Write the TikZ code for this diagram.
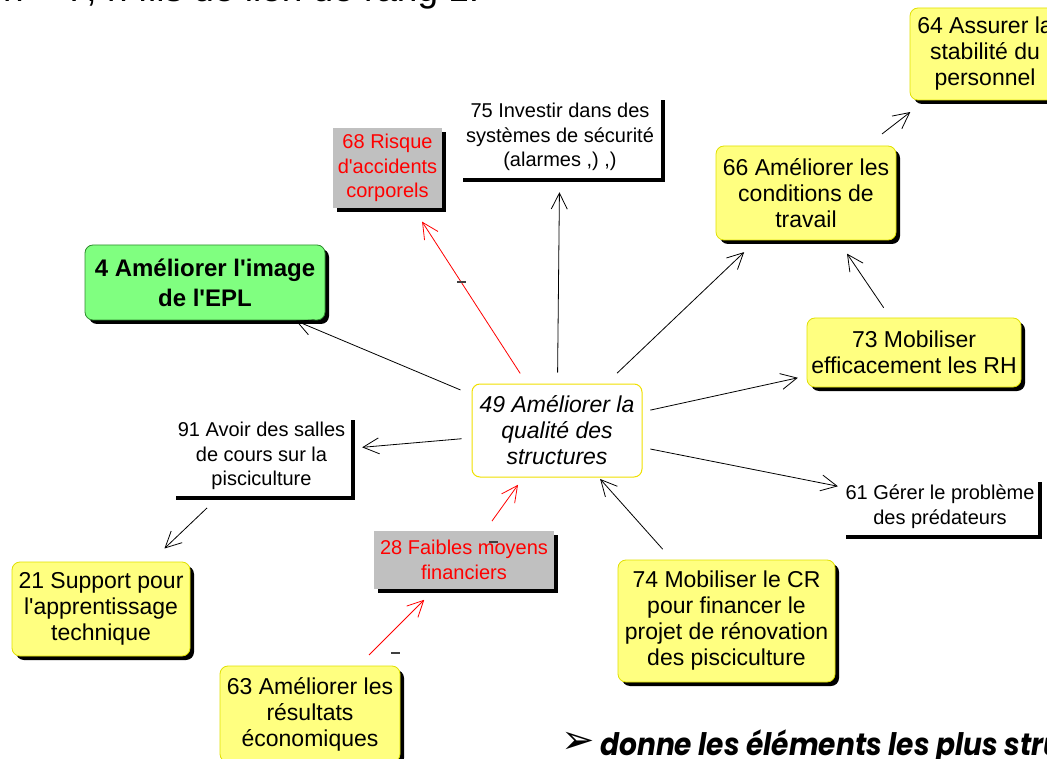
\documentclass[tikz,border=0pt]{standalone}
\usepackage{fontspec}
\setmainfont{Liberation Sans}[Ligatures=TeXOff]
\newfontfamily\headfont{Poppins}[FakeStretch=0.905]
\newfontfamily\symfont{DejaVu Sans}
\usetikzlibrary{arrows.meta,shadows}

\definecolor{notefill}{HTML}{FFFF80}
\definecolor{noteline}{HTML}{E0E000}
\definecolor{goalfill}{HTML}{80FF80}
\definecolor{goalline}{HTML}{2E8B2E}
\definecolor{riskfill}{HTML}{C0C0C0}
\definecolor{coreline}{HTML}{F0E000}

\begin{document}
\begin{tikzpicture}[x=1pt,y=-1pt,
  every node/.style={align=center, inner sep=0pt},
  bxshadow/.style={drop shadow={shadow xshift=4pt, shadow yshift=-4pt, fill=black, opacity=1}},
  bigtext/.style={font=\fontsize{23}{26}\selectfont},
  smalltext/.style={font=\fontsize{20}{24.5}\selectfont},
  yelbox/.style={bigtext, bxshadow, rounded corners=8pt, fill=notefill, draw=noteline, line width=0.8pt},
  whitebox/.style={smalltext, bxshadow, fill=white},
  greybox/.style={smalltext, bxshadow, fill=riskfill, text=red},
  greenbox/.style={font=\fontsize{24}{30}\selectfont\bfseries, bxshadow, rounded corners=8pt, fill=goalfill, draw=goalline, line width=0.8pt},
  centrebox/.style={font=\fontsize{23}{26}\selectfont\itshape, rounded corners=8pt, fill=white, draw=coreline, line width=1pt},
  arrowlink/.style={-{Straight Barb[length=16pt,width=16pt]}, line width=0.8pt, shorten <=12pt, shorten >=14pt},
  redlink/.style={arrowlink, red},
  minusmark/.style={fill=black!75, minimum width=9pt, minimum height=2pt}
]
\useasboundingbox (0,0) rectangle (1047,759);
\clip (0,0) rectangle (1047,759);

% heading line, mostly above the page
\node[anchor=base west, font=\fontsize{37}{37}\selectfont] (heading) at (3,2) {n = 7, n fils de lien de rang 1.};

% boxes
\node[yelbox, minimum width=150pt, minimum height=92pt] (n64) at (985,54) {64 Assurer la\\stabilité du\\personnel};
\node[yelbox, minimum width=180pt, minimum height=94pt] (n66) at (806,193) {66 Améliorer les\\conditions de\\travail};
\node[whitebox, minimum width=202pt, minimum height=82pt] (n75) at (560,137) {75 Investir dans des\\systèmes de sécurité\\(alarmes ,) ,)};
\node[greybox, minimum width=109pt, minimum height=80pt] (n68) at (387.5,168) {68 Risque\\d'accidents\\corporels};
\node[greenbox, minimum width=240pt, minimum height=75pt] (n4) at (205,282.5) {4 Améliorer l'image\\de l'EPL};
\node[yelbox, minimum width=214pt, minimum height=69pt] (n73) at (914,352.5) {73 Mobiliser\\efficacement les RH};
\node[centrebox, minimum width=170pt, minimum height=93pt] (n49) at (557,430.5) {49 Améliorer la\\qualité des\\structures};
\node[whitebox, minimum width=179pt, minimum height=80pt] (n91) at (261.5,456) {91 Avoir des salles\\de cours sur la\\pisciculture};
\node[yelbox, minimum width=178pt, minimum height=94pt] (n21) at (101,609) {21 Support pour\\l'apprentissage\\technique};
\node[greybox, minimum width=180pt, minimum height=58pt] (n28) at (464,560) {28 Faibles moyens\\financiers};
\node[yelbox, minimum width=180pt, minimum height=96pt] (n63) at (310,714) {63 Améliorer les\\résultats\\économiques};
\node[yelbox, minimum width=217pt, minimum height=122pt] (n74) at (726.5,621) {74 Mobiliser le CR\\pour financer le\\projet de rénovation\\des pisciculture};
\node[whitebox, minimum width=196pt, minimum height=57pt] (n61) at (940,506.5) {61 Gérer le problème\\des prédateurs};

% links
\draw[arrowlink, shorten >=1pt] (n49) -- (n4);
\draw[redlink, shorten >=16pt] (n49) -- node[minusmark, pos=0.577]{} (n68);
\draw[arrowlink, shorten <=11pt] (n49) -- (n75);
\draw[arrowlink, shorten <=15pt, shorten >=17pt] (n49) -- (n66);
\draw[arrowlink, shorten <=19pt, shorten >=19pt] (n66) -- (n64);
\draw[arrowlink, shorten >=16pt] (n73) -- (n66);
\draw[arrowlink, shorten <=8pt, shorten >=9pt] (n49) -- (n73);
\draw[arrowlink, shorten <=8pt, shorten >=4pt] (n49) -- (n61);
\draw[arrowlink, shorten <=14pt, shorten >=2pt] (n74) -- (n49);
\draw[redlink, shorten >=9pt] (n28) -- node[minusmark, pos=0, xshift=9pt, yshift=-11pt]{} (n49);
\draw[redlink, shorten <=15pt, shorten >=15pt] (n63) -- node[minusmark, pos=0.17, xshift=24pt]{} (n28);
\draw[arrowlink, shorten <=10pt, shorten >=11pt] (n49) -- (n91);
\draw[arrowlink, shorten <=17pt, shorten >=19pt] (n91) -- (n21);

% closing line
\node[anchor=base west, font=\symfont\fontsize{40}{40}\selectfont] (bullet) at (561,753) {➢};
\node[anchor=base west, font=\headfont\bfseries\itshape\fontsize{31}{31}\selectfont] (tagline) at (600,755) {donne les éléments les plus structurants};
\end{tikzpicture}
\end{document}
